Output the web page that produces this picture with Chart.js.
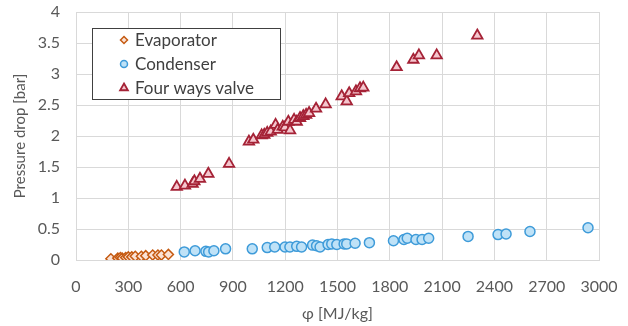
<!DOCTYPE html>
<html>
<head>
<meta charset="utf-8">
<script src="https://cdn.jsdelivr.net/npm/chart.js@4"></script>
<style>
  body { margin: 0; background: #fff; }
  #wrap { width: 628px; height: 326px; }
</style>
</head>
<body>
<div id="wrap"><canvas id="chart"></canvas></div>
<script>
// data
const evapX = [200, 240, 255, 265, 285, 300, 320, 340, 375, 400, 440, 470, 490, 530];
const evapY = [0.02, 0.03, 0.04, 0.03, 0.04, 0.05, 0.05, 0.06, 0.06, 0.07, 0.08, 0.08, 0.08, 0.09];

const condX = [621, 683, 745, 761, 791, 858, 1011, 1097, 1140, 1199, 1227, 1266, 1294, 1357, 1380, 1400, 1446, 1467, 1496, 1538, 1553, 1601, 1683, 1821, 1881, 1900, 1950, 1985, 2023, 2249, 2421, 2467, 2604, 2937];
const condY = [0.13, 0.15, 0.14, 0.13, 0.15, 0.18, 0.18, 0.20, 0.21, 0.21, 0.21, 0.22, 0.21, 0.24, 0.23, 0.21, 0.25, 0.26, 0.25, 0.26, 0.26, 0.27, 0.28, 0.31, 0.33, 0.35, 0.33, 0.33, 0.35, 0.38, 0.41, 0.42, 0.46, 0.52];

const valveX = [578, 625, 669, 679, 711, 759, 878, 992, 1017, 1065, 1080, 1097, 1117, 1145, 1157, 1186, 1199, 1218, 1228, 1251, 1266, 1285, 1304, 1320, 1337, 1377, 1432, 1524, 1553, 1567, 1606, 1629, 1648, 1839, 1935, 1967, 2069, 2302];
const valveY = [1.18, 1.20, 1.23, 1.27, 1.31, 1.39, 1.55, 1.91, 1.94, 2.01, 2.02, 2.05, 2.07, 2.18, 2.10, 2.15, 2.14, 2.23, 2.09, 2.26, 2.23, 2.29, 2.32, 2.34, 2.37, 2.44, 2.51, 2.64, 2.56, 2.69, 2.72, 2.77, 2.78, 3.11, 3.23, 3.30, 3.30, 3.62];

const seriesNames = ['Evaporator', 'Condenser', 'Four ways valve'];
const xTitle = 'φ [MJ/kg]';
const yTitle = 'Pressure drop [bar]';

function toPoints(xs, ys) {
    return xs.map((x, i) => ({ x: x, y: ys[i] }));
}

const FONT = 'Lato, "Open Sans", sans-serif';

// legend box drawn inside the plot area, like the original
const boxLegend = {
    id: 'boxLegend',
    afterDraw(chart) {
        const ctx = chart.ctx;
        const x0 = 92, y0 = 28, w = 188, h = 71;
        ctx.save();
        ctx.fillStyle = '#ffffff';
        ctx.fillRect(x0, y0, w, h);
        ctx.strokeStyle = '#404040';
        ctx.lineWidth = 1;
        ctx.strokeRect(x0 + 0.5, y0 + 0.5, w, h);
        ctx.font = '17px ' + FONT;
        ctx.textBaseline = 'middle';
        chart.data.datasets.forEach((ds, i) => {
            const cy = y0 + 12 + i * 24;
            ctx.fillStyle = ds.backgroundColor;
            ctx.strokeStyle = ds.borderColor;
            ctx.lineWidth = ds.pointBorderWidth;
            Chart.helpers.drawPoint(ctx, {
                pointStyle: ds.pointStyle,
                radius: ds.pointRadius - 1.5,
                borderWidth: ds.pointBorderWidth,
                rotation: 0
            }, 124, cy);
            ctx.fillStyle = '#404040';
            ctx.fillText(ds.label, 135, cy + 1);
        });
        ctx.restore();
    }
};

new Chart(document.getElementById('chart'), {
    type: 'scatter',
    data: {
        datasets: [
            {
                label: seriesNames[0],
                data: toPoints(evapX, evapY),
                pointStyle: 'rectRot',
                pointRadius: 5,
                pointBorderWidth: 1.5,
                borderColor: '#C55A11',
                backgroundColor: '#FBE2D5'
            },
            {
                label: seriesNames[1],
                data: toPoints(condX, condY),
                pointStyle: 'circle',
                pointRadius: 5,
                pointBorderWidth: 1.5,
                borderColor: '#3E9BD9',
                backgroundColor: '#BFE2F7'
            },
            {
                label: seriesNames[2],
                data: toPoints(valveX, valveY),
                pointStyle: 'triangle',
                pointRadius: 6,
                pointBorderWidth: 1.8,
                borderColor: '#A52236',
                backgroundColor: '#F5C6CE'
            }
        ]
    },
    options: {
        responsive: true,
        maintainAspectRatio: false,
        animation: false,
        layout: { padding: { top: 12, right: 29, left: 0, bottom: 0 } },
        plugins: {
            legend: { display: false },
            tooltip: { enabled: false }
        },
        scales: {
            x: {
                type: 'linear',
                min: 0,
                max: 3000,
                afterFit: (s) => { s.height = 66; s.paddingLeft = 0; s.paddingRight = 0; },
                ticks: {
                    stepSize: 300,
                    padding: 17,
                    color: '#595959',
                    font: { family: FONT, size: 16 },
                    callback: (v) => String(v)
                },
                grid: { color: '#D9D9D9', drawTicks: false },
                border: { color: '#D9D9D9' },
                title: {
                    display: true,
                    text: xTitle,
                    color: '#595959',
                    font: { family: FONT, size: 16 },
                    padding: { top: 0, bottom: 3 }
                }
            },
            y: {
                min: 0,
                max: 4,
                afterFit: (s) => { s.width = 76; s.paddingTop = 0; s.paddingBottom = 0; },
                ticks: {
                    stepSize: 0.5,
                    padding: 16,
                    color: '#595959',
                    font: { family: FONT, size: 16 },
                    callback: (v) => String(Math.round(v * 10) / 10)
                },
                grid: { color: '#D9D9D9', drawTicks: false },
                border: { color: '#D9D9D9' },
                title: {
                    display: true,
                    text: yTitle,
                    color: '#595959',
                    font: { family: FONT, size: 15 },
                    padding: { top: 11, bottom: 0 }
                }
            }
        }
    },
    plugins: [boxLegend]
});
</script>
</body>
</html>
